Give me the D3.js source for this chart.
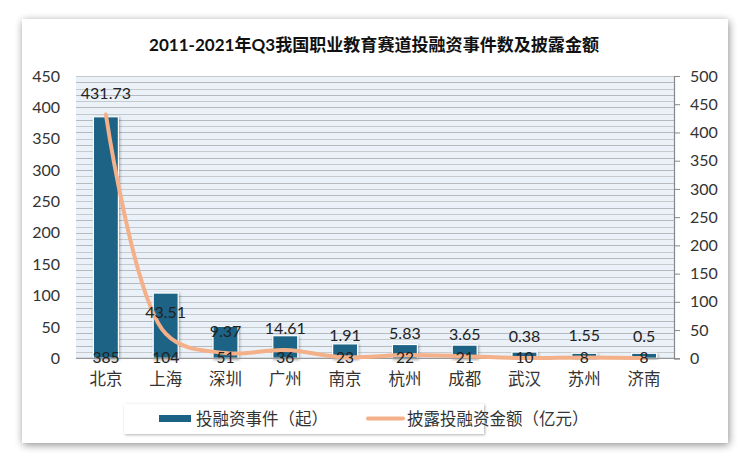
<!DOCTYPE html>
<html><head><meta charset="utf-8">
<script src="https://cdn.jsdelivr.net/npm/d3@7"></script>
<style>
html,body{margin:0;padding:0;background:#fff;}
text{font-family:Lato,"Noto Sans CJK SC",sans-serif;}
</style></head>
<body><svg id="c" width="750" height="462"></svg>
<script>
const categories = ["北京","上海","深圳","广州","南京","杭州","成都","武汉","苏州","济南"];
const events = [385,104,51,36,23,22,21,10,8,8];
const amounts = [431.73,43.51,9.37,14.61,1.91,5.83,3.65,0.38,1.55,0.5];
const leftTicks = [0,50,100,150,200,250,300,350,400,450];
const rightTicks = [0,50,100,150,200,250,300,350,400,450,500];
const title = "2011-2021年Q3我国职业教育赛道投融资事件数及披露金额";
const seriesNames = ["投融资事件（起）","披露投融资金额（亿元）"];

const svg = d3.select("#c");
const defs = svg.append("defs");
const f = defs.append("filter").attr("id","sh").attr("x","-10%").attr("y","-10%").attr("width","120%").attr("height","120%");
f.append("feGaussianBlur").attr("in","SourceAlpha").attr("stdDeviation",4).attr("result","b");
f.append("feOffset").attr("in","b").attr("dx",1).attr("dy",2).attr("result","o");
f.append("feComponentTransfer").attr("in","o").attr("result","o2").append("feFuncA").attr("type","linear").attr("slope",0.45);
const m = f.append("feMerge"); m.append("feMergeNode").attr("in","o2"); m.append("feMergeNode").attr("in","SourceGraphic");
const f2 = defs.append("filter").attr("id","sh2").attr("x","-20%").attr("y","-20%").attr("width","140%").attr("height","140%");
f2.append("feGaussianBlur").attr("in","SourceAlpha").attr("stdDeviation",1.5).attr("result","b");
f2.append("feOffset").attr("in","b").attr("dx",1).attr("dy",1).attr("result","o");
f2.append("feComponentTransfer").attr("in","o").attr("result","o2").append("feFuncA").attr("type","linear").attr("slope",0.35);
const m2 = f2.append("feMerge"); m2.append("feMergeNode").attr("in","o2"); m2.append("feMergeNode").attr("in","SourceGraphic");

// card
svg.append("rect").attr("x",22).attr("y",19).attr("width",706).attr("height",424).attr("fill","#fff").attr("filter","url(#sh)");

svg.append("text").attr("x",374).attr("y",51).attr("text-anchor","middle").attr("font-size",17).attr("font-weight","bold").attr("fill","#111")
  .attr("textLength",450).attr("lengthAdjust","spacingAndGlyphs").text(title);

const X0=76, X1=674, YT=76, YB=358.3;
const x = d3.scaleBand().domain(categories).range([X0,X1]).paddingInner(0).paddingOuter(0);
const yL = d3.scaleLinear().domain([0,450]).range([YB,YT]);
const yR = d3.scaleLinear().domain([0,500]).range([YB,YT]);

svg.append("rect").attr("x",X0).attr("y",YT).attr("width",X1-X0).attr("height",YB-YT).attr("fill","#eaf1f8");
const grid = d3.range(0,451,10);
svg.append("g").selectAll("line").data(grid).join("line")
  .attr("x1",X0).attr("x2",X1).attr("y1",d=>Math.round(yL(d))+0.5).attr("y2",d=>Math.round(yL(d))+0.5)
  .attr("stroke",(d,i)=>i%2? "#c6cacd":"#b6babe").attr("stroke-width",1.1);

// left axis
const gl = svg.append("g").attr("transform",`translate(${X0},0)`).call(d3.axisLeft(yL).tickValues(leftTicks).tickSize(0).tickPadding(16));
gl.select(".domain").remove();
gl.selectAll("text").attr("font-size",16).attr("fill","#333").attr("font-family","Lato,sans-serif");

// right axis
const gr = svg.append("g").attr("transform",`translate(${X1},0)`).call(d3.axisRight(yR).tickValues(rightTicks).tickSize(6).tickSizeOuter(6).tickPadding(10));
gr.select(".domain").attr("stroke","#888").attr("stroke-width",1.2);
gr.selectAll(".tick line").attr("stroke","#888");
gr.selectAll("text").attr("font-size",16).attr("fill","#333").attr("font-family","Lato,sans-serif");

// bars
const bw = 25;
svg.append("g").selectAll("rect").data(categories).join("rect")
  .attr("x",d=>x(d)+x.bandwidth()/2-bw/2).attr("width",bw)
  .attr("y",(d,i)=>yL(events[i])).attr("height",(d,i)=>YB-yL(events[i]))
  .attr("fill","#1b6385").attr("stroke","#fff").attr("stroke-width",1.2).attr("filter","url(#sh2)");

// bottom axis line
svg.append("line").attr("x1",X0).attr("x2",X1).attr("y1",YB).attr("y2",YB).attr("stroke","#999").attr("stroke-width",1.2);

// line
const line = d3.line().x((d,i)=>x(categories[i])+x.bandwidth()/2).y(d=>yR(d)).curve(d3.curveCatmullRom.alpha(0.5));
svg.append("path").datum(amounts).attr("d",line).attr("fill","none").attr("stroke","#f4b089").attr("stroke-width",4).attr("stroke-linecap","round");

// labels
svg.append("g").selectAll("text").data(categories).join("text")
  .attr("x",d=>x(d)+x.bandwidth()/2).attr("y",(d,i)=>yR(amounts[i])-16)
  .attr("text-anchor","middle").attr("font-size",16).attr("fill","#222").text((d,i)=>amounts[i]);
svg.append("g").selectAll("text").data(categories).join("text")
  .attr("x",d=>x(d)+x.bandwidth()/2).attr("y",YB+5)
  .attr("text-anchor","middle").attr("font-size",15.5).attr("fill","#222").text((d,i)=>events[i]);

// category axis
const gb = svg.append("g").attr("transform",`translate(0,${YB})`).call(d3.axisBottom(x).tickSize(0).tickPadding(15));
gb.select(".domain").remove();
gb.selectAll("text").attr("font-size",16.5).attr("fill","#333").attr("font-family","'Noto Sans CJK SC',sans-serif");

// legend
svg.append("rect").attr("x",124).attr("y",404).attr("width",360).attr("height",30).attr("fill","#fff").attr("filter","url(#sh2)").attr("opacity",0.9);
const lg = svg.append("g");
lg.append("rect").attr("x",159).attr("y",415).attr("width",32).attr("height",7).attr("fill","#1b6385");
lg.append("text").attr("x",196).attr("y",425).attr("font-size",16.5).attr("fill","#333").attr("font-family","'Noto Sans CJK SC',sans-serif").text(seriesNames[0]);
lg.append("line").attr("x1",368).attr("x2",403).attr("y1",418.5).attr("y2",418.5).attr("stroke","#f4b089").attr("stroke-width",4).attr("stroke-linecap","round");
lg.append("text").attr("x",407).attr("y",425).attr("font-size",16.5).attr("fill","#333").attr("font-family","'Noto Sans CJK SC',sans-serif").text(seriesNames[1]);
</script></body></html>
